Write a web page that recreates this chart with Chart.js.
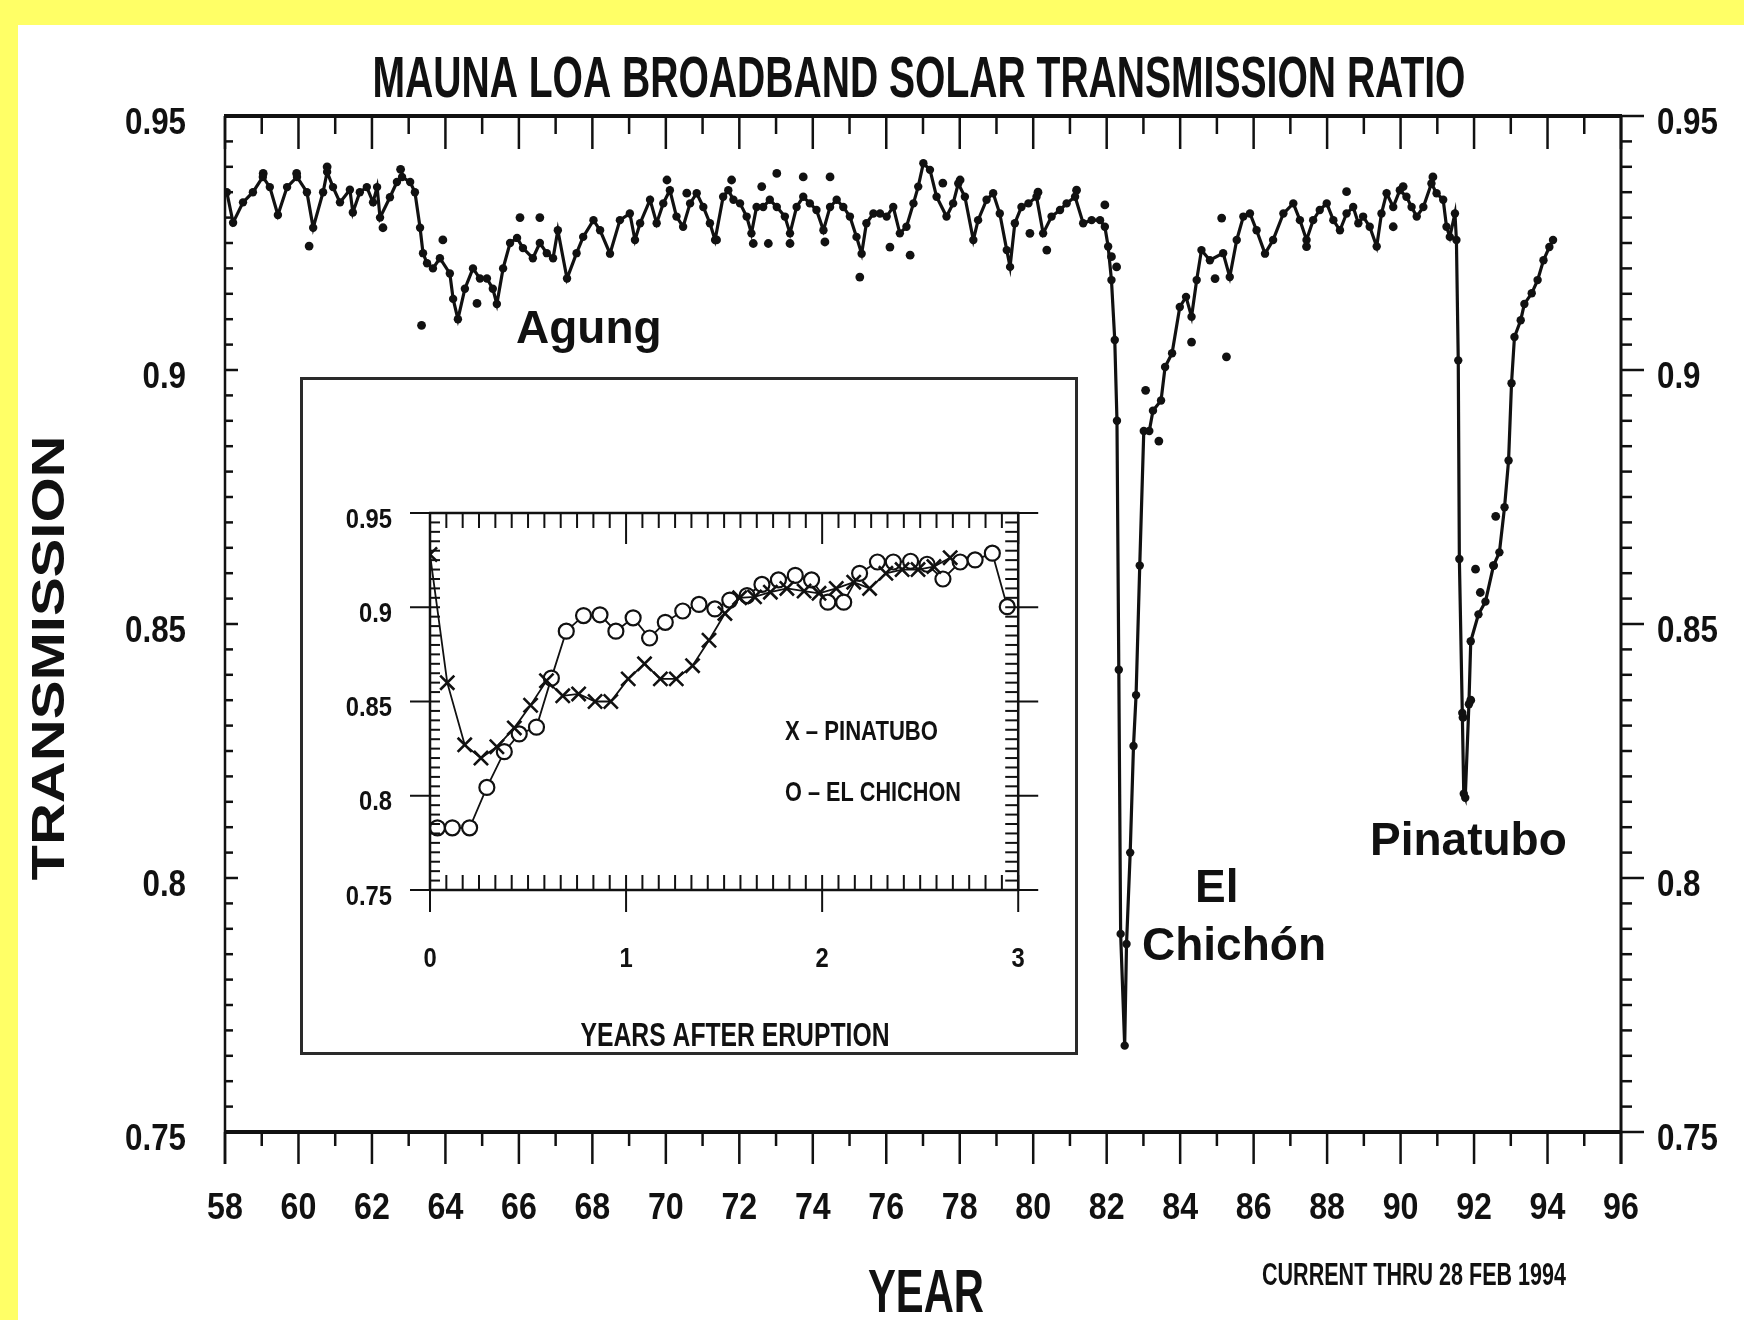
<!DOCTYPE html>
<html>
<head>
<meta charset="utf-8">
<title>Mauna Loa Broadband Solar Transmission Ratio</title>
<script src="https://cdn.jsdelivr.net/npm/chart.js@4.4.1/dist/chart.umd.min.js"></script>
<style>
  html, body { margin: 0; padding: 0; background: #ffff66; }
  #wrap { position: relative; width: 1744px; height: 1320px; }
  #mainChart { position: absolute; left: 0; top: 0; }
  #insetChart { position: absolute; left: 300px; top: 377px; }
</style>
</head>
<body>
<div id="wrap">
  <canvas id="mainChart" width="1744" height="1320"></canvas>
  <canvas id="insetChart" width="778" height="678"></canvas>
</div>
<script>
// main record: smoothed line (decimal year, transmission ratio)
const lineYears = [
  58.05, 58.22, 58.49, 58.76, 59.03, 59.22, 59.44, 59.69, 59.96, 60.23,
  60.40, 60.67, 60.78, 60.94, 61.13, 61.40, 61.48, 61.67, 61.86, 62.03,
  62.14, 62.22, 62.49, 62.68, 62.82, 63.04, 63.17, 63.31, 63.39, 63.50,
  63.66, 63.85, 64.12, 64.21, 64.34, 64.53, 64.75, 64.94, 65.13, 65.29,
  65.40, 65.57, 65.76, 65.95, 66.11, 66.38, 66.57, 66.76, 66.93, 67.06,
  67.31, 67.57, 67.75, 68.03, 68.21, 68.48, 68.75, 69.02, 69.16, 69.30,
  69.57, 69.75, 69.93, 70.11, 70.29, 70.47, 70.66, 70.84, 71.02, 71.20,
  71.34, 71.56, 71.70, 71.84, 72.02, 72.20, 72.33, 72.47, 72.65, 72.83,
  73.02, 73.24, 73.38, 73.56, 73.74, 73.92, 74.10, 74.29, 74.47, 74.65,
  74.83, 75.01, 75.19, 75.33, 75.46, 75.65, 75.83, 76.01, 76.19, 76.37,
  76.55, 76.74, 76.87, 77.01, 77.19, 77.37, 77.64, 77.82, 77.96, 78.14,
  78.37, 78.50, 78.73, 78.91, 79.09, 79.28, 79.37, 79.50, 79.68, 79.87,
  80.09, 80.27, 80.50, 80.73, 80.91, 81.14, 81.36, 81.59, 81.82, 81.95,
  82.04, 82.13, 82.22, 82.28, 82.33, 82.38, 82.49, 82.54, 82.64, 82.73,
  82.80, 82.90, 83.01, 83.16, 83.26, 83.48, 83.59, 83.78, 83.99, 84.16,
  84.31, 84.45, 84.58, 84.81, 85.17, 85.35, 85.54, 85.72, 85.90, 86.08,
  86.31, 86.53, 86.81, 87.08, 87.26, 87.44, 87.62, 87.80, 87.99, 88.17,
  88.35, 88.53, 88.71, 88.85, 88.98, 89.16, 89.35, 89.48, 89.62, 89.80,
  89.98, 90.16, 90.30, 90.44, 90.62, 90.84, 90.98, 91.16, 91.25, 91.34,
  91.48, 91.52, 91.57, 91.60, 91.68, 91.72, 91.76, 91.86, 91.91, 92.12,
  92.31, 92.53, 92.69, 92.83, 92.94, 93.02, 93.10, 93.27, 93.37, 93.57,
  93.73, 93.89, 94.05, 94.15
];
const lineValues = [
  .935, .929, .933, .935, .938, .936, .9305, .936, .938, .935,
  .928, .935, .939, .936, .933, .9355, .931, .935, .936, .933,
  .936, .930, .934, .937, .938, .937, .935, .928, .923, .921,
  .920, .922, .919, .914, .910, .916, .920, .918, .918, .916,
  .913, .920, .925, .926, .924, .922, .925, .923, .922, .9275,
  .918, .923, .9262, .9295, .9275, .9229, .9295, .9308, .9256, .9289,
  .9335, .9289, .9328, .9354, .9302, .9282, .9328, .9348, .9321, .9289,
  .9256, .9341, .9354, .9335, .9328, .9302, .9269, .9321, .9321, .9335,
  .9321, .9302, .9269, .9321, .9341, .9328, .9315, .9275, .9321, .9335,
  .9321, .9302, .9262, .9229, .9289, .9308, .9308, .9302, .9321, .9269,
  .9282, .9328, .9361, .9407, .9394, .9341, .9302, .9328, .9367, .9341,
  .9256, .9295, .9335, .9348, .9308, .9236, .9203, .9289, .9321, .9328,
  .9341, .9269, .9302, .9315, .9328, .9341, .9289, .9295, .9295, .9282,
  .9243, .9177, .9059, .890, .841, .789, .767, .787, .805, .826,
  .836, .8615, .888, .888, .892, .894, .9006, .9033, .9124, .9144,
  .9105, .9177, .9236, .9216, .923, .9183, .9256, .9302, .9308, .9275,
  .9229, .9256, .9308, .9328, .9295, .9256, .9295, .9315, .9328, .9295,
  .9275, .9308, .9321, .9289, .9302, .9282, .9243, .9308, .9348, .9321,
  .9354, .9341, .9321, .9302, .9321, .9367, .9348, .9335, .9282, .9262,
  .9308, .9256, .9019, .8628, .8325, .8166, .8158, .8342, .8466, .8519,
  .8544, .8615, .8641, .873, .8822, .8974, .9065, .9098, .913, .9151,
  .9177, .9216, .9242, .9256
];
// monthly values that sit off the line
const dotYears = [
  59.04, 59.95, 60.29, 60.78, 62.30, 62.78, 63.35, 63.93, 64.86, 66.03,
  66.57, 70.03, 70.57, 71.38, 71.79, 72.38, 72.61, 72.79, 73.02, 73.38,
  73.74, 74.33, 74.47, 75.28, 76.10, 76.65, 77.54, 78.01, 79.91, 80.13,
  80.37, 81.18, 81.95, 82.13, 82.27, 83.06, 83.42, 84.31, 84.95, 85.13,
  85.26, 87.44, 88.53, 89.80, 90.07, 90.88, 91.70, 91.91, 92.04, 92.17,
  92.53, 92.59
];
const dotValues = [
  .9387, .9387, .9244, .940, .928, .9395, .9088, .9256, .9131, .930,
  .930, .9374, .9348, .9256, .9374, .9249, .9361, .9249, .9387, .9249,
  .938, .9252, .938, .9183, .9242, .9226, .9368, .9374, .9269, .935,
  .9236, .9354, .9325, .9223, .9203, .896, .886, .9055, .918, .9299,
  .9026, .9243, .9351, .9282, .9361, .938, .8316, .835, .8608, .8562,
  .8615, .8712
];
const yearTicks = [58, 60, 62, 64, 66, 68, 70, 72, 74, 76, 78, 80, 82, 84, 86, 88, 90, 92, 94, 96];
const yearTickLabels = ['58', '60', '62', '64', '66', '68', '70', '72', '74', '76',
  '78', '80', '82', '84', '86', '88', '90', '92', '94', '96'];
const transTicks = [0.75, 0.8, 0.85, 0.9, 0.95];
const transTickLabels = ['0.75', '0.8', '0.85', '0.9', '0.95'];

// inset: years after eruption
const pinatuboT = [0, 0.088, 0.177, 0.26, 0.341, 0.43, 0.513, 0.594, 0.677, 0.758,
  0.842, 0.922, 1.011, 1.094, 1.175, 1.256, 1.339, 1.423, 1.504, 1.579,
  1.655, 1.736, 1.82, 1.908, 1.984, 2.072, 2.161, 2.242, 2.325, 2.408,
  2.489, 2.57, 2.653];
const pinatuboV = [0.928, 0.860, 0.827, 0.820, 0.826, 0.836, 0.848, 0.861, 0.853, 0.854,
  0.850, 0.850, 0.862, 0.870, 0.862, 0.862, 0.869, 0.8825, 0.8967, 0.905,
  0.9055, 0.908, 0.910, 0.9086, 0.9074, 0.910, 0.9133, 0.910, 0.918, 0.920,
  0.920, 0.9216, 0.9263];
const chichonT = [0.038, 0.114, 0.202, 0.29, 0.379, 0.455, 0.543, 0.619, 0.695, 0.783,
  0.867, 0.948, 1.036, 1.12, 1.2, 1.289, 1.372, 1.453, 1.529, 1.617,
  1.693, 1.777, 1.863, 1.946, 2.029, 2.11, 2.191, 2.282, 2.363, 2.451,
  2.535, 2.616, 2.704, 2.78, 2.868, 2.944];
const chichonV = [0.783, 0.783, 0.783, 0.8044, 0.8234, 0.8328, 0.8364, 0.8624, 0.8873, 0.8956,
  0.896, 0.8873, 0.8944, 0.8837, 0.892, 0.898, 0.9015, 0.8991, 0.9038, 0.9062,
  0.9121, 0.9145, 0.9169, 0.9145, 0.9027, 0.9027, 0.918, 0.924, 0.924, 0.9244,
  0.9228, 0.915, 0.924, 0.9251, 0.9287, 0.9003];
const afterTicks = [0, 1, 2, 3];
const afterTickLabels = ['0', '1', '2', '3'];

const INK = '#111111';
const SANS = '"Liberation Sans", Arial, Helvetica, sans-serif';

function pts(xs, ys) {
  return xs.map((x, i) => ({ x: x, y: ys[i] }));
}

// text squeezed/stretched to a measured width
function fitText(ctx, text, x, y, size, width, align, angle) {
  ctx.save();
  ctx.font = 'bold ' + size + 'px ' + SANS;
  const s = width / ctx.measureText(text).width;
  ctx.translate(x, y);
  if (angle) ctx.rotate(angle);
  ctx.scale(s, 1);
  ctx.textAlign = align || 'center';
  ctx.textBaseline = 'alphabetic';
  ctx.fillStyle = INK;
  ctx.fillText(text, 0, 0);
  ctx.restore();
}

// the old plot uses a condensed lettering; squeeze the tick labels the library draws
const narrowTicks = {
  id: 'narrowTicks',
  beforeDraw(chart, args, o) {
    const ctx = chart.ctx;
    const orig = ctx.fillText;
    chart.$plainFill = orig;
    ctx.fillText = function (text, x, y) {
      this.save();
      this.translate(x, y);
      this.scale(o.factor, 1);
      orig.call(this, text, 0, 0);
      this.restore();
    };
  },
  beforeDatasetsDraw(chart) {
    if (chart.$plainFill) {
      chart.ctx.fillText = chart.$plainFill;
      delete chart.$plainFill;
    }
  }
};

// frame and tick marks, placed with the chart's own scales
const frameTicks = {
  id: 'frameTicks',
  afterDatasetsDraw(chart, args, o) {
    const ctx = chart.ctx, a = chart.chartArea;
    const xs = chart.scales.x, ys = chart.scales.y;
    const seg = (x1, y1, x2, y2) => { ctx.beginPath(); ctx.moveTo(x1, y1); ctx.lineTo(x2, y2); ctx.stroke(); };
    ctx.save();
    ctx.strokeStyle = INK;
    ctx.lineCap = 'butt';
    ctx.lineWidth = o.tickWidth;
    for (let i = 0; i <= o.xCount; i++) {
      const v = o.xMin + i * o.xStep;
      const major = i % o.xMajorEvery === 0;
      const px = xs.getPixelForValue(v);
      const t = major ? o.top[1] : o.top[0];
      const b = major ? o.bottom[1] : o.bottom[0];
      seg(px, a.top + t[0], px, a.top + t[1]);
      seg(px, a.bottom - b[0], px, a.bottom - b[1]);
    }
    for (let i = 0; i <= 40; i++) {
      const v = 0.75 + i * 0.005;
      const major = i % 10 === 0;
      const py = ys.getPixelForValue(v);
      const l = major ? o.left[1] : o.left[0];
      const r = major ? o.right[1] : o.right[0];
      seg(a.left + l[0], py, a.left + l[1], py);
      seg(a.right - r[0], py, a.right - r[1], py);
    }
    const w = o.frame;
    ctx.lineWidth = w.top; seg(a.left - 1, a.top, a.right + 1, a.top);
    ctx.lineWidth = w.bottom; seg(a.left - 1, a.bottom, a.right + 1, a.bottom);
    ctx.lineWidth = w.left; seg(a.left, a.top, a.left, a.bottom + w.ext);
    ctx.lineWidth = w.right; seg(a.right, a.top, a.right, a.bottom + w.ext);
    ctx.restore();
  }
};

const paper = {
  id: 'paper',
  beforeDraw(chart) {
    const ctx = chart.ctx;
    ctx.save();
    ctx.fillStyle = '#ffff66';
    ctx.fillRect(0, 0, chart.width, chart.height);
    ctx.fillStyle = '#ffffff';
    ctx.fillRect(18, 25, chart.width - 18, chart.height - 25);
    ctx.restore();
  }
};

const mainTexts = {
  id: 'mainTexts',
  afterDraw(chart) {
    const ctx = chart.ctx;
    fitText(ctx, 'MAUNA LOA BROADBAND SOLAR TRANSMISSION RATIO', 919, 97, 58, 1093);
    fitText(ctx, 'TRANSMISSION', 64, 658, 46, 445, 'center', -Math.PI / 2);
    fitText(ctx, 'YEAR', 926, 1312, 61, 116);
    fitText(ctx, 'CURRENT THRU 28 FEB 1994', 1414, 1285, 32, 304);
    ctx.save();
    ctx.fillStyle = INK;
    ctx.font = 'bold 46px ' + SANS;
    ctx.textAlign = 'left';
    ctx.textBaseline = 'alphabetic';
    ctx.fillText('Agung', 516, 343);
    ctx.fillText('El', 1195, 902);
    ctx.fillText('Chichón', 1142, 960);
    ctx.fillText('Pinatubo', 1370, 855);
    ctx.restore();
  }
};

const tickFont = (size) => ({ family: SANS, size: size, weight: 'bold' });
const setTicks = (vals) => (scale) => { scale.ticks = vals.map(v => ({ value: v })); };

new Chart(document.getElementById('mainChart'), {
  type: 'scatter',
  data: {
    datasets: [{
      label: 'Transmission',
      data: pts(lineYears, lineValues),
      showLine: true,
      borderColor: INK,
      borderWidth: 3.2,
      pointRadius: 4.2,
      pointBackgroundColor: INK,
      pointBorderWidth: 0,
      tension: 0
    }, {
      label: 'Monthly values',
      data: pts(dotYears, dotValues),
      showLine: false,
      pointRadius: 4.4,
      pointBackgroundColor: INK,
      pointBorderWidth: 0
    }]
  },
  options: {
    responsive: false,
    animation: false,
    devicePixelRatio: 1,
    events: [],
    layout: { padding: { top: 116, left: 0, right: 0, bottom: 0 } },
    plugins: {
      legend: { display: false },
      tooltip: { enabled: false },
      narrowTicks: { factor: 0.87 },
      frameTicks: {
        xMin: 58, xStep: 1, xCount: 38, xMajorEvery: 2,
        tickWidth: 2.5,
        top: [[0, 18], [0, 33]],
        bottom: [[0, -14], [0, -32]],
        left: [[0, 8], [0, 13]],
        right: [[0, -11], [0, -23]],
        frame: { top: 4, bottom: 4, left: 2.5, right: 3, ext: 32 }
      }
    },
    scales: {
      x: {
        type: 'linear', position: 'bottom', min: 58, max: 96,
        afterBuildTicks: setTicks(yearTicks),
        afterFit: (s) => { s.height = 188; },
        grid: { display: false, drawTicks: false },
        border: { display: false },
        ticks: {
          font: tickFont(37), color: INK, padding: 55, maxRotation: 0, autoSkip: false,
          callback: (v, i) => yearTickLabels[i]
        }
      },
      y: {
        position: 'left', min: 0.75, max: 0.95,
        afterBuildTicks: setTicks(transTicks),
        afterFit: (s) => { s.width = 225; },
        grid: { display: false, drawTicks: false },
        border: { display: false },
        ticks: {
          font: tickFont(36), color: INK, padding: 39, labelOffset: 8,
          callback: (v, i) => transTickLabels[i]
        }
      },
      y2: {
        position: 'right', min: 0.75, max: 0.95,
        afterBuildTicks: setTicks(transTicks),
        afterFit: (s) => { s.width = 123; },
        grid: { display: false, drawTicks: false },
        border: { display: false },
        ticks: {
          font: tickFont(36), color: INK, padding: 36, labelOffset: 8,
          callback: (v, i) => transTickLabels[i]
        }
      }
    }
  },
  plugins: [paper, narrowTicks, frameTicks, mainTexts]
});

const insetBox = {
  id: 'insetBox',
  beforeDraw(chart) {
    const ctx = chart.ctx;
    ctx.save();
    ctx.fillStyle = '#ffffff';
    ctx.fillRect(0, 0, chart.width, chart.height);
    ctx.restore();
  },
  afterDraw(chart) {
    const ctx = chart.ctx;
    ctx.save();
    ctx.strokeStyle = '#2a2a2a';
    ctx.lineWidth = 3;
    ctx.strokeRect(1.5, 1.5, chart.width - 3, chart.height - 3);
    ctx.restore();
    fitText(ctx, 'YEARS AFTER ERUPTION', 435, 669, 33, 309);
    fitText(ctx, 'X – PINATUBO', 485, 363, 28, 153, 'left');
    fitText(ctx, 'O – EL CHICHON', 485, 424, 28, 176, 'left');
  }
};

new Chart(document.getElementById('insetChart'), {
  type: 'scatter',
  data: {
    datasets: [{
      label: 'Pinatubo',
      data: pts(pinatuboT, pinatuboV),
      showLine: true,
      borderColor: INK,
      borderWidth: 1.8,
      pointStyle: 'crossRot',
      pointRadius: 10,
      pointBorderWidth: 2.6,
      pointBorderColor: INK,
      tension: 0
    }, {
      label: 'El Chichon',
      data: pts(chichonT, chichonV),
      showLine: true,
      borderColor: INK,
      borderWidth: 1.8,
      pointStyle: 'circle',
      pointRadius: 7.5,
      pointBorderWidth: 2.2,
      pointBorderColor: INK,
      pointBackgroundColor: '#ffffff',
      tension: 0
    }]
  },
  options: {
    responsive: false,
    animation: false,
    devicePixelRatio: 1,
    events: [],
    layout: { padding: { top: 136, left: 0, right: 41, bottom: 0 } },
    plugins: {
      legend: { display: false },
      tooltip: { enabled: false },
      narrowTicks: { factor: 0.85 },
      frameTicks: {
        xMin: 0, xStep: 1 / 12, xCount: 36, xMajorEvery: 12,
        tickWidth: 2,
        top: [[0, 15], [0, 31]],
        bottom: [[0, 15], [-22, 15]],
        left: [[0, 10], [-20, 10]],
        right: [[0, 13], [-20, 13]],
        frame: { top: 2.5, bottom: 2.5, left: 2.5, right: 2.5, ext: 0 }
      }
    },
    scales: {
      x: {
        type: 'linear', position: 'bottom', min: 0, max: 3,
        afterBuildTicks: setTicks(afterTicks),
        afterFit: (s) => { s.height = 165; },
        grid: { display: false, drawTicks: false },
        border: { display: false },
        ticks: {
          font: tickFont(28), color: INK, padding: 52, maxRotation: 0, autoSkip: false,
          callback: (v, i) => afterTickLabels[i]
        }
      },
      y: {
        position: 'left', min: 0.75, max: 0.95,
        afterBuildTicks: setTicks(transTicks),
        afterFit: (s) => { s.width = 130; },
        grid: { display: false, drawTicks: false },
        border: { display: false },
        ticks: {
          font: tickFont(28), color: INK, padding: 38, labelOffset: 7,
          callback: (v, i) => transTickLabels[i]
        }
      }
    }
  },
  plugins: [insetBox, narrowTicks, frameTicks]
});
</script>
</body>
</html>
